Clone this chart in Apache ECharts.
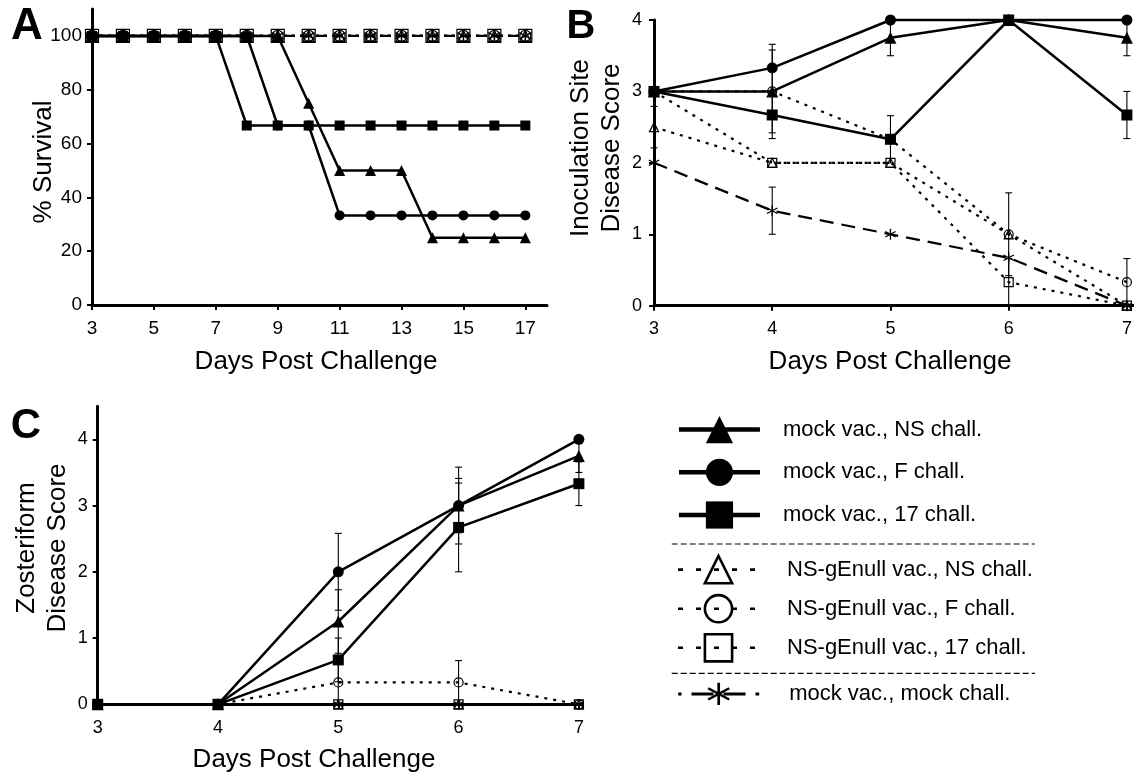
<!DOCTYPE html>
<html><head><meta charset="utf-8">
<script src="https://cdn.jsdelivr.net/npm/echarts@6/dist/echarts.min.js"></script>
<style>html,body{margin:0;padding:0;background:#fff}#c{width:1134px;height:776px}</style>
</head><body><div id="c"></div>
<script>
// ---------- DATA ----------
const seriesNames = ['mock vac., NS chall.', 'mock vac., F chall.', 'mock vac., 17 chall.',
  'NS-gEnull vac., NS chall.', 'NS-gEnull vac., F chall.', 'NS-gEnull vac., 17 chall.', 'mock vac., mock chall.'];

// Panel A: % survival
const daysA = [3,4,5,6,7,8,9,10,11,12,13,14,15,16,17];
const survMockNS   = [100,100,100,100,100,100,100,75,50,50,50,25,25,25,25];
const survMockF    = [100,100,100,100,100,100,66.7,66.7,33.3,33.3,33.3,33.3,33.3,33.3,33.3];
const survMock17   = [100,100,100,100,100,66.7,66.7,66.7,66.7,66.7,66.7,66.7,66.7,66.7,66.7];
const survNullNS   = [100,100,100,100,100,100,100,100,100,100,100,100,100,100,100];
const survNullF    = [100,100,100,100,100,100,100,100,100,100,100,100,100,100,100];
const survNull17   = [100,100,100,100,100,100,100,100,100,100,100,100,100,100,100];
const survMockMock = [100,100,100,100,100,100,100,100,100,100,100,100,100,100,100];

// Panel B: inoculation site disease score (mean, error)
const daysB = [3,4,5,6,7];
const incMockNS   = [3, 3, 3.75, 4, 3.75];   const errIncMockNS   = [0, 0.58, 0.25, 0, 0.25];
const incMockF    = [3, 3.33, 4, 4, 4];      const errIncMockF    = [0, 0.33, 0, 0, 0];
const incMock17   = [3, 2.67, 2.33, 4, 2.67];const errIncMock17   = [0, 0.33, 0.33, 0, 0.33];
const incNullNS   = [2.5, 2, 2, 1, 0];       const errIncNullNS   = [0.29, 0, 0, 0, 0];
const incNullF    = [3, 3, 2.33, 1, 0.33];   const errIncNullF    = [0, 0, 0, 0.58, 0.33];
const incNull17   = [3, 2, 2, 0.33, 0];      const errIncNull17   = [0, 0, 0, 0.33, 0];
const incMockMock = [2, 1.33, 1, 0.67, 0];   const errIncMockMock = [0, 0.33, 0, 0, 0];

// Panel C: zosteriform disease score (mean, error)
const daysC = [3,4,5,6,7];
const zosMockNS   = [0, 0, 1.25, 3, 3.75];   const errZosMockNS   = [0, 0, 0.48, 0.41, 0.25];
const zosMockF    = [0, 0, 2, 3, 4];         const errZosMockF    = [0, 0, 0.58, 0.58, 0];
const zosMock17   = [0, 0, 0.67, 2.67, 3.33];const errZosMock17   = [0, 0, 0.33, 0.67, 0.33];
const zosNullNS   = [0, 0, 0, 0, 0];         const errZosNullNS   = [0, 0, 0, 0, 0];
const zosNullF    = [0, 0, 0.33, 0.33, 0];   const errZosNullF    = [0, 0, 0.33, 0.33, 0];
const zosNull17   = [0, 0, 0, 0, 0];         const errZosNull17   = [0, 0, 0, 0, 0];
const zosMockMock = [0, 0, 0, 0, 0];         const errZosMockMock = [0, 0, 0, 0, 0];

// Tick labels
const ticksAx = [3,5,7,9,11,13,15,17];
const ticksAy = [0,20,40,60,80,100];
const ticksBx = [3,4,5,6,7];
const ticksBy = [0,1,2,3,4];
const ticksCx = [3,4,5,6,7];
const ticksCy = [0,1,2,3,4];

// ---------- STYLE / BUILD ----------
const FONT = "'Liberation Sans', Arial, Helvetica, sans-serif";
function asteriskPath() {
  const t = 11, segs = [[50,0,50,100],[6.7,25,93.3,75],[6.7,75,93.3,25]];
  let d = '';
  segs.forEach(s => {
    const dx = s[2]-s[0], dy = s[3]-s[1], L = Math.hypot(dx,dy);
    const nx = -dy/L*t/2, ny = dx/L*t/2;
    d += `M${(s[0]+nx).toFixed(2)} ${(s[1]+ny).toFixed(2)}L${(s[2]+nx).toFixed(2)} ${(s[3]+ny).toFixed(2)}L${(s[2]-nx).toFixed(2)} ${(s[3]-ny).toFixed(2)}L${(s[0]-nx).toFixed(2)} ${(s[1]-ny).toFixed(2)}Z`;
  });
  return 'path://' + d;
}
const ASTER = asteriskPath();
const SYMBOLS = ['triangle','circle','rect','triangle','circle','rect', ASTER];
const SIZES = [
  [11,10,10, 11,11,13, 13],
  [12,11,11, 9,9,9, 11],
  [12,11,11, 9,9,9, 9]
];
function lineType(idx, panel) {
  if (idx < 3) return 'solid';
  if (idx < 6) return panel === 0 ? [3,5] : [3,6];
  return panel === 0 ? [10,6] : [14,8];
}

const panels = [
  {days: daysA, vals: [survMockNS, survMockF, survMock17, survNullNS, survNullF, survNull17, survMockMock], errs: null},
  {days: daysB, vals: [incMockNS, incMockF, incMock17, incNullNS, incNullF, incNull17, incMockMock],
   errs: [errIncMockNS, errIncMockF, errIncMock17, errIncNullNS, errIncNullF, errIncNull17, errIncMockMock]},
  {days: daysC, vals: [zosMockNS, zosMockF, zosMock17, zosNullNS, zosNullF, zosNull17, zosMockMock],
   errs: [errZosMockNS, errZosMockF, errZosMock17, errZosNullNS, errZosNullF, errZosNull17, errZosMockMock]}
];

function errRender(params, api) {
  const x = api.value(0), lo = api.value(1), hi = api.value(2);
  const a = api.coord([x, lo]), b = api.coord([x, hi]);
  const w = 3.5, st = {stroke: '#000', lineWidth: 1.1};
  return {type: 'group', children: [
    {type: 'line', shape: {x1: a[0], y1: a[1], x2: b[0], y2: b[1]}, style: st},
    {type: 'line', shape: {x1: a[0]-w, y1: a[1], x2: a[0]+w, y2: a[1]}, style: st},
    {type: 'line', shape: {x1: b[0]-w, y1: b[1], x2: b[0]+w, y2: b[1]}, style: st}
  ]};
}

const series = [];
const drawOrder = [3,4,5,6,0,1,2];
panels.forEach((p, pi) => {
  if (p.errs) {
    const ed = [];
    p.vals.forEach((v, si) => v.forEach((m, k) => {
      const e = p.errs[si][k];
      if (e > 0) ed.push([p.days[k], m - e, m + e]);
    }));
    series.push({type: 'custom', xAxisIndex: pi, yAxisIndex: pi, data: ed, renderItem: errRender,
      encode: {x: 0, y: [1, 2]}, z: 1, silent: true, clip: false});
  }
  drawOrder.forEach(si => {
    const open = si >= 3 && si <= 5;
    series.push({
      type: 'line', name: seriesNames[si], xAxisIndex: pi, yAxisIndex: pi,
      data: p.days.map((d, k) => [d, p.vals[si][k]]),
      symbol: SYMBOLS[si], symbolSize: SIZES[pi][si], showAllSymbol: true,
      lineStyle: {color: '#000', width: si < 3 ? 2.5 : 2.2, type: lineType(si, pi)},
      itemStyle: {color: open ? 'rgba(0,0,0,0)' : '#000', borderColor: '#000', borderWidth: open ? 1.2 : 0},
      emphasis: {disabled: true}, silent: true, clip: false, z: si < 3 ? 4 : 3
    });
  });
});

const axisCommon = {
  axisLine: {show: true, lineStyle: {color: '#000', width: 3}},
  axisTick: {show: true, length: 5, lineStyle: {color: '#000', width: 2}},
  splitLine: {show: false}
};
function makeAxis(gi, min, max, ticks, fs, margin) {
  return Object.assign({}, axisCommon, {type: 'value', gridIndex: gi, min, max,
    axisTick: Object.assign({}, axisCommon.axisTick, {customValues: ticks}),
    axisLabel: {customValues: ticks, fontSize: fs, fontFamily: FONT, color: '#000', margin}});
}

const legText = pad => ({fontSize: 22, fontFamily: FONT, color: '#000', padding: [0, 0, 0, pad]});
const option = {
  backgroundColor: '#fff',
  animation: false,
  grid: [
    {left: 92, top: 9, width: 455, height: 296, containLabel: false, outerBoundsMode: 'none'},
    {left: 654, top: 20, width: 480, height: 285.7, containLabel: false, outerBoundsMode: 'none'},
    {left: 97.7, top: 406.2, width: 484.8, height: 298.1, containLabel: false, outerBoundsMode: 'none'}
  ],
  xAxis: [makeAxis(0, 3, 17.7, ticksAx, 19, 14), makeAxis(1, 3, 7.06, ticksBx, 18, 14), makeAxis(2, 3, 7.03, ticksCx, 18, 15)],
  yAxis: [makeAxis(0, 0, 110, ticksAy, 19, 10), makeAxis(1, 0, 4, ticksBy, 18, 12), makeAxis(2, 0, 4.5, ticksCy, 18, 10)],
  legend: [
    {data: seriesNames.slice(0, 3), orient: 'vertical', left: 671.7, top: 411, itemWidth: 81, itemHeight: 34,
     itemGap: 15.5, selectedMode: false, textStyle: legText(18), lineStyle: {width: 4.5, type: 'solid'}},
    {data: seriesNames.slice(3, 6), orient: 'vertical', left: 671.7, top: 549.7, itemWidth: 81, itemHeight: 34,
     itemGap: 9.3, selectedMode: false, textStyle: legText(23), lineStyle: {width: 2.6, type: [5, 13], dashOffset: 0},
     itemStyle: {borderWidth: 2.6, borderColor: '#000', color: 'rgba(0,0,0,0)'}},
    {data: seriesNames.slice(6), orient: 'vertical', left: 671.7, top: 677.7, itemWidth: 81, itemHeight: 28,
     selectedMode: false, textStyle: legText(25), lineStyle: {width: 3, type: [22, 10], dashOffset: 18.7}}
  ],
  graphic: [
    {type: 'text', x: 27, y: 27, style: {text: 'A', font: `bold 44px ${FONT}`, fill: '#000', align: 'center', verticalAlign: 'middle'}},
    {type: 'text', x: 581, y: 27, style: {text: 'B', font: `bold 40px ${FONT}`, fill: '#000', align: 'center', verticalAlign: 'middle'}},
    {type: 'text', x: 26, y: 426, style: {text: 'C', font: `bold 42px ${FONT}`, fill: '#000', align: 'center', verticalAlign: 'middle'}},
    {type: 'text', x: 316, y: 362, style: {text: 'Days Post Challenge', font: `26px ${FONT}`, fill: '#000', align: 'center', verticalAlign: 'middle'}},
    {type: 'text', x: 890, y: 362, style: {text: 'Days Post Challenge', font: `26px ${FONT}`, fill: '#000', align: 'center', verticalAlign: 'middle'}},
    {type: 'text', x: 314, y: 760, style: {text: 'Days Post Challenge', font: `26px ${FONT}`, fill: '#000', align: 'center', verticalAlign: 'middle'}},
    {type: 'text', x: 44, y: 162, rotation: Math.PI / 2, style: {text: '% Survival', font: `26px ${FONT}`, fill: '#000', align: 'center', verticalAlign: 'middle'}},
    {type: 'text', x: 596, y: 148, rotation: Math.PI / 2, style: {text: 'Inoculation Site\nDisease Score', font: `26px ${FONT}`, lineHeight: 31, fill: '#000', align: 'center', verticalAlign: 'middle'}},
    {type: 'text', x: 42, y: 548, rotation: Math.PI / 2, style: {text: 'Zosteriform\nDisease Score', font: `26px ${FONT}`, lineHeight: 31, fill: '#000', align: 'center', verticalAlign: 'middle'}},
    {type: 'line', shape: {x1: 671.7, y1: 544, x2: 1035, y2: 544}, style: {stroke: '#000', lineWidth: 1.2, lineDash: [6, 3]}},
    {type: 'line', shape: {x1: 671.7, y1: 673.3, x2: 1035, y2: 673.3}, style: {stroke: '#000', lineWidth: 1.2, lineDash: [6, 3]}}
  ],
  series
};
const chart = echarts.init(document.getElementById('c'), null, {renderer: 'canvas'});
chart.setOption(option);
</script></body></html>
